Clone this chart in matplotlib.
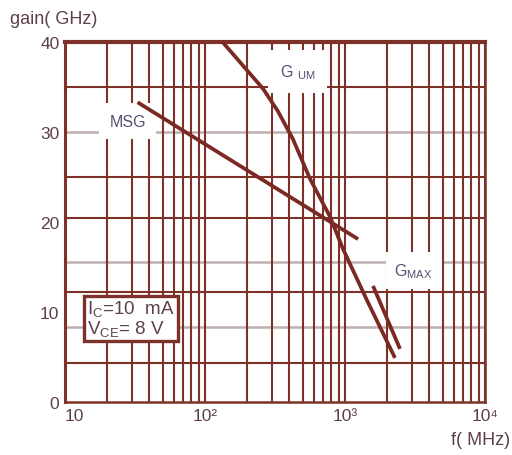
import matplotlib
matplotlib.use("Agg")
import matplotlib.pyplot as plt
import numpy as np
from matplotlib.ticker import FixedLocator, LogLocator, NullFormatter

plt.rcParams['font.family'] = ['Liberation Sans', 'DejaVu Sans']
plt.rcParams['mathtext.fontset'] = 'custom'
plt.rcParams['mathtext.rm'] = 'Liberation Sans'
plt.rcParams['mathtext.it'] = 'Liberation Sans'

# ---- data ----
gum_freq = [130, 260, 332, 425, 562, 781, 968, 1436, 2275]
gum_gain = [40.2, 34.8, 32.3, 29.2, 24.8, 20.6, 17.0, 11.3, 4.9]

msg_freq = [33, 1240]
msg_gain = [33.3, 18.1]

gmax_freq = [1585, 2471]
gmax_gain = [12.9, 5.9]

x_ticks = [10, 100, 1000, 10000]
x_labels = ['10', '10²', '10³', '10⁴']
y_ticks = [0, 10, 20, 30, 40]
y_labels = ['0', '10', '20', '30', '40']

# ---- style ----
LINE = '#7a2a22'
GRID = '#7d3129'
LIGHT = '#bfb0b0'
TXT = '#5e3f4c'
LBL = '#5a4e72'

fig = plt.figure(figsize=(5.12, 4.56), dpi=100)
ax = fig.add_axes([65/512, 1-403/456, 420/512, 360/456])
ax.set_xscale('log')
ax.set_xlim(10, 10000)
ax.set_ylim(0, 40)

# vertical grid (log minor + decades)
ax.xaxis.set_major_locator(FixedLocator(x_ticks))
ax.xaxis.set_minor_locator(LogLocator(base=10, subs=np.arange(2, 10)))
ax.xaxis.set_minor_formatter(NullFormatter())
ax.set_xticks(x_ticks)
ax.set_xticklabels(x_labels)
ax.grid(True, which='both', axis='x', color=GRID, lw=1.5, zorder=1)

# horizontal grid lines
for v in [35, 25, 20.4, 12.2, 4.3]:
    ax.axhline(v, color=GRID, lw=1.5, zorder=1)
for v in [30, 15.6, 8.3]:
    ax.axhline(v, color=LIGHT, lw=1.8, zorder=1)

ax.set_yticks(y_ticks)
ax.set_yticklabels(y_labels)
ax.tick_params(axis='both', which='both', length=0, labelsize=12.5, labelcolor=TXT)
ax.tick_params(axis='x', pad=4)
ax.tick_params(axis='y', pad=4)
lbls = ax.get_xticklabels()
lbls[0].set_ha('left')
lbls[0].set_x(10)

for s in ['left', 'right', 'bottom']:
    ax.spines[s].set_color(GRID)
    ax.spines[s].set_linewidth(1.8)
ax.spines['top'].set_color(GRID)
ax.spines['top'].set_linewidth(3.0)
ax.spines['left'].set_linewidth(2.2)

# curves
ax.plot(gum_freq, gum_gain, color=LINE, lw=2.7, zorder=4, solid_capstyle='butt')
ax.plot(msg_freq, msg_gain, color=LINE, lw=2.7, zorder=4, solid_capstyle='butt')
ax.plot(gmax_freq, gmax_gain, color=LINE, lw=2.7, zorder=4, solid_capstyle='butt')

# labels with white backgrounds
ax.text(460, 36.7, 'G $_{\\mathrm{UM}}$', color=LBL, fontsize=11.5, ha='center', va='center',
        zorder=3, bbox=dict(boxstyle='square,pad=0.75', fc='white', ec='none'))
ax.text(28, 31.2, 'MSG', color=LBL, fontsize=11.5, ha='center', va='center',
        zorder=3, bbox=dict(boxstyle='square,pad=0.65', fc='white', ec='none'))
ax.text(3100, 14.6, 'G$_{\\mathrm{MAX}}$', color=LBL, fontsize=11.5, ha='center', va='center',
        zorder=3, bbox=dict(boxstyle='square,pad=0.55', fc='white', ec='none'))

ax.text(0.157, 0.232, 'I$_{\\mathrm{C}}$=10  mA\nV$_{\\mathrm{CE}}$= 8 V', transform=ax.transAxes,
        color=TXT, fontsize=13.5, ha='center', va='center', multialignment='left',
        linespacing=1.0, zorder=5,
        bbox=dict(boxstyle='square,pad=0.15', fc='white', ec=GRID, lw=2.4))

fig.text(10/512, 1-20/456, 'gain( GHz)', color=TXT, fontsize=13, ha='left', va='center')
fig.text(510/512, 1-441/456, 'f( MHz)', color=TXT, fontsize=13, ha='right', va='center')

fig.savefig('out.png', dpi=100)
